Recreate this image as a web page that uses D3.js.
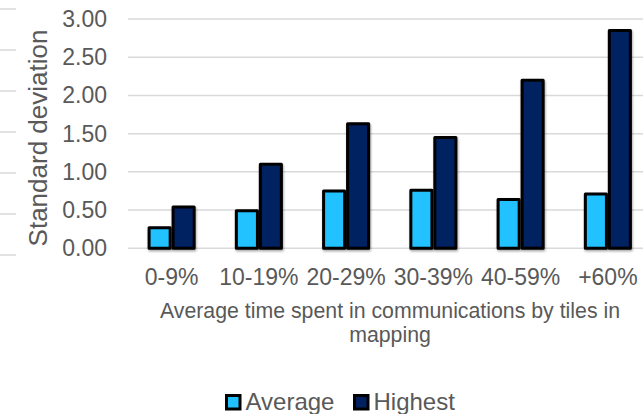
<!DOCTYPE html>
<html>
<head>
<meta charset="utf-8">
<script src="https://cdn.jsdelivr.net/npm/d3@7"></script>
<style>
  html, body { margin: 0; padding: 0; background: #fff; }
  svg { display: block; font-family: "Liberation Sans", Arial, sans-serif; }
</style>
</head>
<body>
<svg id="chart" width="643" height="414"></svg>
<script>
// Data
const categories = ["0-9%", "10-19%", "20-29%", "30-39%", "40-59%", "+60%"];
const seriesNames = ["Average", "Highest"];
const averageValues = [0.27, 0.49, 0.75, 0.76, 0.64, 0.71];
const highestValues = [0.54, 1.10, 1.63, 1.45, 2.20, 2.85];
const yTicks = [0, 0.5, 1, 1.5, 2, 2.5, 3];
const seriesColors = ["#21C1FF", "#002060"];

const FONT = "Liberation Sans, Arial, sans-serif";
const TEXT = "#595959";
const svg = d3.select("#chart");
const W = 643;
const x0 = 128, x1 = 651.5, yTop = 19, yBottom = 248.3;

const x = d3.scaleBand().domain(categories).range([x0, x1]).paddingInner(0).paddingOuter(0);
const xs = d3.scaleBand().domain(seriesNames).range([0, x.bandwidth()]).paddingInner(0.12).paddingOuter(0.88);
const y = d3.scaleLinear().domain([0, 3]).range([yBottom, yTop]);

const defs = svg.append("defs");
const f = defs.append("filter").attr("id", "shadow").attr("x", "-20%").attr("y", "-20%").attr("width", "150%").attr("height", "150%");
f.append("feDropShadow").attr("dx", 0.8).attr("dy", 1.6).attr("stdDeviation", 0.8).attr("flood-color", "#000").attr("flood-opacity", 0.35);

// Fragment of neighbouring gridlines at far left
const leftStubs = d3.range(7).map(i => 9 + i * 41);
svg.append("g").selectAll("line").data(leftStubs).join("line")
  .attr("x1", 0).attr("x2", 16).attr("y1", d => d).attr("y2", d => d)
  .attr("stroke", "#d9d9d9").attr("stroke-width", 1.5);

// Gridlines
svg.append("g").selectAll("line").data(yTicks).join("line")
  .attr("x1", x0).attr("x2", W).attr("y1", d => y(d)).attr("y2", d => y(d))
  .attr("stroke", "#d9d9d9").attr("stroke-width", 1.5);

// Y axis labels
const yAxis = d3.axisLeft(y).tickValues(yTicks).tickFormat(d3.format(".2f")).tickSize(0).tickPadding(0);
const yg = svg.append("g").attr("transform", "translate(107,0)").call(yAxis);
yg.select(".domain").remove();
yg.selectAll("text").attr("font-size", 23).attr("fill", TEXT).attr("font-family", FONT);

// X axis labels
const xAxis = d3.axisBottom(x).tickSize(0).tickPadding(0);
const xg = svg.append("g").attr("transform", "translate(0,268.7)").call(xAxis);
xg.select(".domain").remove();
xg.selectAll("text").attr("font-size", 23).attr("fill", TEXT).attr("font-family", FONT);

// Bars
const groups = svg.append("g").selectAll("g").data(categories).join("g")
  .attr("transform", d => `translate(${x(d)},0)`);
groups.selectAll("rect")
  .data((c, i) => seriesNames.map((s, j) => ({ s, v: j === 0 ? averageValues[i] : highestValues[i], j })))
  .join("rect")
  .attr("x", d => xs(d.s))
  .attr("width", xs.bandwidth())
  .attr("y", d => y(d.v))
  .attr("height", d => y(0) - y(d.v))
  .attr("fill", d => seriesColors[d.j])
  .attr("stroke", "#000").attr("stroke-width", 3).attr("stroke-linejoin", "round")
  .attr("filter", "url(#shadow)");

// Axis titles
svg.append("text")
  .attr("transform", "translate(47,138) rotate(-90)")
  .attr("text-anchor", "middle").attr("font-size", 26).attr("fill", TEXT)
  .text("Standard deviation");
const xt = svg.append("text").attr("text-anchor", "middle").attr("font-size", 21.3).attr("fill", TEXT);
xt.append("tspan").attr("x", 390).attr("y", 318).text("Average time spent in communications by tiles in");
xt.append("tspan").attr("x", 390).attr("y", 342).text("mapping");

// Legend
const legendX = [225, 353];
const lg = svg.append("g").selectAll("g").data(seriesNames).join("g")
  .attr("transform", (d, i) => `translate(${legendX[i]},394)`);
lg.append("rect").attr("x", 1.5).attr("y", 1.5).attr("width", 13.5).attr("height", 13.5)
  .attr("fill", (d, i) => seriesColors[i]).attr("stroke", "#000").attr("stroke-width", 3);
lg.append("text").attr("x", 20.5).attr("y", 16).attr("font-size", 24).attr("fill", TEXT).text(d => d);
</script>
</body>
</html>
